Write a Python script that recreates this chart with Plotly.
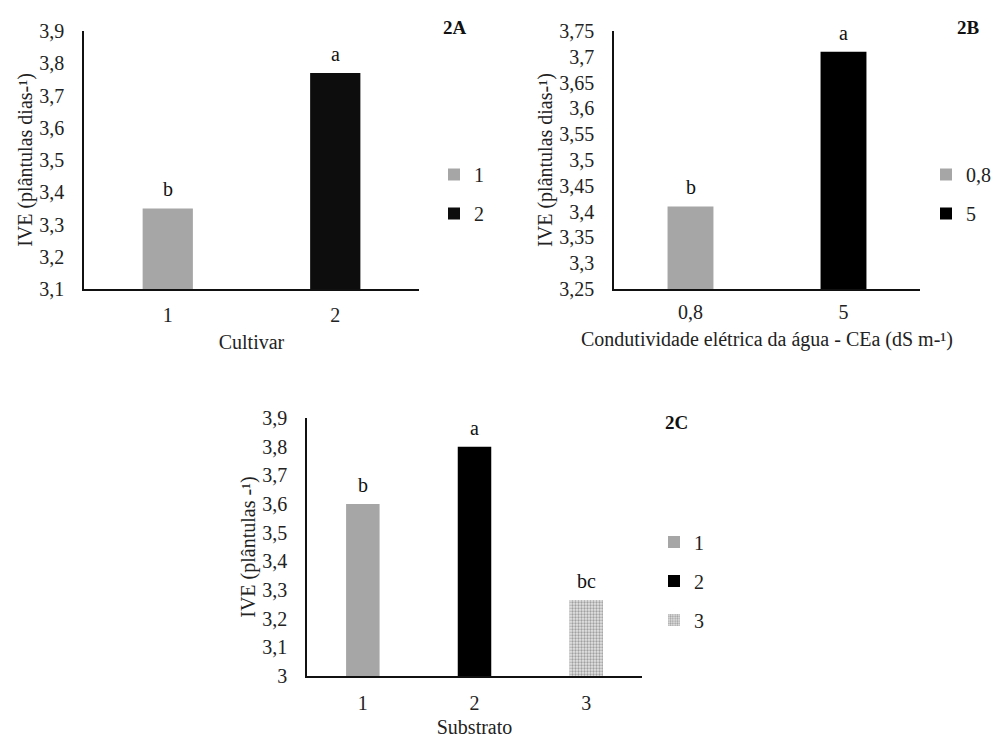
import plotly.graph_objects as go

# ---------------- data ----------------
cultivar_cats = ["1", "2"]
cultivar_vals = [3.35, 3.77]
cultivar_letters = ["b", "a"]

cea_cats = ["0,8", "5"]
cea_vals = [3.41, 3.71]
cea_letters = ["b", "a"]

substrato_cats = ["1", "2", "3"]
substrato_vals = [3.60, 3.80, 3.265]
substrato_letters = ["b", "a", "bc"]

W, H = 996, 738
FONT = "Liberation Serif, Times New Roman, serif"

def px(x):
    return x / W

def py(y):
    return 1 - y / H

fig = go.Figure()

GREY = "#a6a6a6"
BLACK = "#0d0d0d"

def add_series(cats, vals, colors, patterns, xa, ya, legend):
    for i, (c, v) in enumerate(zip(cats, vals)):
        marker = dict(color=colors[i], line=dict(width=0))
        if patterns[i]:
            marker["pattern"] = dict(shape=".", size=3, solidity=0.45,
                                     fgcolor="#a0a0a0", bgcolor="#e4e4e4", fillmode="replace")
        fig.add_trace(go.Bar(
            x=[c], y=[v], name=c, width=0.3, marker=marker,
            xaxis=xa, yaxis=ya, legend=legend, legendgroup=legend + c,
            showlegend=True,
        ))

add_series(cultivar_cats, cultivar_vals, [GREY, BLACK], [False, False], "x", "y", "legend")
add_series(cea_cats, cea_vals, [GREY, "#000000"], [False, False], "x2", "y2", "legend2")
add_series(substrato_cats, substrato_vals, [GREY, "#000000", "#d0d0d0"], [False, False, True], "x3", "y3", "legend3")

SIZE = 20
TF = dict(family=FONT, size=SIZE, color="#222")

# letters above bars
for cats, vals, letters, xr, yr in [
    (cultivar_cats, cultivar_vals, cultivar_letters, "x", "y"),
    (cea_cats, cea_vals, cea_letters, "x2", "y2"),
    (substrato_cats, substrato_vals, substrato_letters, "x3", "y3"),
]:
    for i, (v, l) in enumerate(zip(vals, letters)):
        fig.add_annotation(x=i, y=v, xref=xr, yref=yr, text=l, showarrow=False,
                           yanchor="bottom", yshift=6,
                           font=dict(family=FONT, size=SIZE, color="#111"))

# panel tags
for tag, x, y in [("2A", 455, 28), ("2B", 968, 28), ("2C", 676, 423)]:
    fig.add_annotation(x=px(x), y=py(y), xref="paper", yref="paper", text="<b>%s</b>" % tag,
                       showarrow=False, xanchor="center", yanchor="middle",
                       font=dict(family=FONT, size=19, color="#111"))

axis_common = dict(showline=True, linecolor="#111", linewidth=1.5, showgrid=False,
                   zeroline=False, ticks="", tickfont=TF, automargin=False)

def xcat(cats):
    return dict(type="category", categoryorder="array", categoryarray=cats,
                range=[-0.5, len(cats) - 0.5], autorange=False)

fig.update_layout(
    width=W, height=H, margin=dict(l=0, r=0, t=0, b=0, autoexpand=False),
    paper_bgcolor="white", plot_bgcolor="white",
    barmode="overlay", separators=", ",
    font=TF,
    xaxis=dict(domain=[px(84), px(419)], anchor="y", **xcat(cultivar_cats),
               title=dict(text="Cultivar", font=TF, standoff=10),
               ticklabelstandoff=7, **axis_common),
    yaxis=dict(domain=[py(289), py(31)], anchor="x", range=[3.1, 3.9], dtick=0.1,
               title=dict(text="IVE (plântulas dias-¹)", font=TF, standoff=1),
               ticklabelstandoff=14, **axis_common),
    xaxis2=dict(domain=[px(614), px(920)], anchor="y2", **xcat(cea_cats),
                title=dict(text="Condutividade elétrica da água - CEa (dS m-¹)", font=TF, standoff=10),
                ticklabelstandoff=4, **axis_common),
    yaxis2=dict(domain=[py(289), py(31)], anchor="x2", range=[3.25, 3.75], dtick=0.05,
                title=dict(text="IVE (plântulas dias-¹)", font=TF, standoff=1),
                ticklabelstandoff=14, **axis_common),
    xaxis3=dict(domain=[px(307), px(642)], anchor="y3", **xcat(substrato_cats),
                title=dict(text="Substrato", font=TF, standoff=7),
                ticklabelstandoff=8, **axis_common),
    yaxis3=dict(domain=[py(676), py(418)], anchor="x3", range=[3.0, 3.9], dtick=0.1,
                title=dict(text="IVE (plântulas -¹)", font=TF, standoff=1),
                ticklabelstandoff=14, **axis_common),
    legend=dict(x=px(434), y=py(194), xanchor="left", yanchor="middle",
                font=TF, itemwidth=30, tracegroupgap=10, bgcolor="rgba(0,0,0,0)"),
    legend2=dict(x=px(926), y=py(194), xanchor="left", yanchor="middle",
                 font=TF, itemwidth=30, tracegroupgap=10, bgcolor="rgba(0,0,0,0)"),
    legend3=dict(x=px(654), y=py(581), xanchor="left", yanchor="middle",
                 font=TF, itemwidth=30, tracegroupgap=10, bgcolor="rgba(0,0,0,0)"),
)

fig.write_html("out.html")
